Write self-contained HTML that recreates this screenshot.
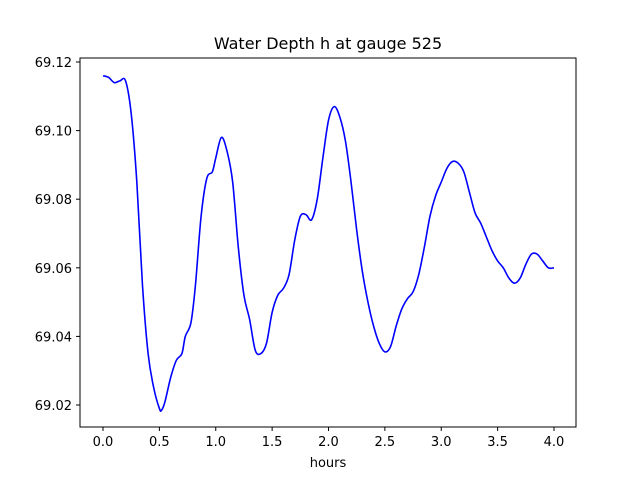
<!DOCTYPE html>
<html><head><meta charset="utf-8"><style>
body{margin:0;background:#fff;font-family:"Liberation Sans","DejaVu Sans",sans-serif;}
svg text{font-family:"DejaVu Sans","Liberation Sans",sans-serif;}
</style></head><body>
<svg id="chart" width="640" height="480" xmlns="http://www.w3.org/2000/svg">
<rect width="640" height="480" fill="#fff"/>
<text x="328" y="49" font-size="16" text-anchor="middle">Water Depth h at gauge 525</text>
<rect x="80" y="58" width="496" height="369" fill="none" stroke="#000" stroke-width="1"/>
<g id="xt"></g>
<g id="yt"></g>
<text x="328" y="467" font-size="13" text-anchor="middle">hours</text>
<path id="line" fill="none" stroke="#0000ff" stroke-width="1.6"/>
</svg>
<script>
const hours=[0,0.05,0.1,0.15,0.2,0.25,0.3,0.35,0.4,0.45,0.5,0.52,0.55,0.6,0.65,0.7,0.73,0.78,0.82,0.87,0.92,0.97,1.0,1.05,1.1,1.15,1.2,1.25,1.3,1.35,1.4,1.45,1.5,1.55,1.6,1.65,1.7,1.75,1.8,1.85,1.9,1.95,2.0,2.05,2.1,2.15,2.2,2.25,2.3,2.35,2.4,2.45,2.5,2.55,2.6,2.65,2.7,2.75,2.8,2.85,2.9,2.95,3.0,3.05,3.1,3.15,3.2,3.25,3.3,3.35,3.4,3.45,3.5,3.55,3.6,3.65,3.7,3.75,3.8,3.85,3.9,3.95,4.0];
const depth=[69.116,69.1155,69.114,69.1145,69.1145,69.105,69.085,69.055,69.035,69.025,69.019,69.0185,69.021,69.028,69.033,69.035,69.040,69.044,69.055,69.075,69.086,69.088,69.092,69.098,69.094,69.085,69.066,69.052,69.045,69.036,69.035,69.038,69.047,69.052,69.054,69.058,69.068,69.075,69.0755,69.074,69.080,69.092,69.103,69.107,69.104,69.097,69.085,69.071,69.059,69.050,69.043,69.038,69.0355,69.037,69.043,69.048,69.051,69.053,69.058,69.066,69.075,69.081,69.085,69.089,69.091,69.0905,69.088,69.082,69.076,69.073,69.069,69.065,69.062,69.060,69.057,69.0555,69.057,69.061,69.064,69.064,69.062,69.060,69.060];
const xTicks=[0,0.5,1,1.5,2,2.5,3,3.5,4];
const xLabels=["0.0","0.5","1.0","1.5","2.0","2.5","3.0","3.5","4.0"];
const yTicks=[69.02,69.04,69.06,69.08,69.10,69.12];
const yLabels=["69.02","69.04","69.06","69.08","69.10","69.12"];
const X=h=>103+h*112.75;
const Y=v=>405-(v-69.02)/0.02*68.6;
const NS="http://www.w3.org/2000/svg";
const xt=document.getElementById('xt'),yt=document.getElementById('yt');
xTicks.forEach((t,i)=>{
 const l=document.createElementNS(NS,'line');
 
 
 l.setAttribute('x1',X(t));l.setAttribute('x2',X(t));l.setAttribute('y1',427);l.setAttribute('y2',431);l.setAttribute('stroke','#000');
 xt.appendChild(l);
 const tx=document.createElementNS(NS,'text');
 
 
 tx.setAttribute('x',X(t));tx.setAttribute('y',446);tx.setAttribute('font-size','13');tx.setAttribute('text-anchor','middle');
 tx.textContent=xLabels[i];xt.appendChild(tx);
});
yTicks.forEach((t,i)=>{
 const l=document.createElementNS(NS,'line');
 
 
 l.setAttribute('x1',76);l.setAttribute('x2',80);l.setAttribute('y1',Y(t));l.setAttribute('y2',Y(t));l.setAttribute('stroke','#000');
 yt.appendChild(l);
 const tx=document.createElementNS(NS,'text');
 
 
 tx.setAttribute('x',72);tx.setAttribute('y',Y(t)+5);tx.setAttribute('font-size','13');tx.setAttribute('text-anchor','end');
 tx.textContent=yLabels[i];yt.appendChild(tx);
});
const pts=hours.map((h,i)=>[X(h),Y(depth[i])]);
let d='M'+pts[0][0]+','+pts[0][1];
for(let i=0;i<pts.length-1;i++){
 const p0=pts[Math.max(0,i-1)],p1=pts[i],p2=pts[i+1],p3=pts[Math.min(pts.length-1,i+2)];
 const c1=[p1[0]+(p2[0]-p0[0])/6,p1[1]+(p2[1]-p0[1])/6];
 const c2=[p2[0]-(p3[0]-p1[0])/6,p2[1]-(p3[1]-p1[1])/6];
 d+=`C${c1[0]},${c1[1]} ${c2[0]},${c2[1]} ${p2[0]},${p2[1]}`;
}
document.getElementById('line').setAttribute('d',d);
</script>
</body></html>
